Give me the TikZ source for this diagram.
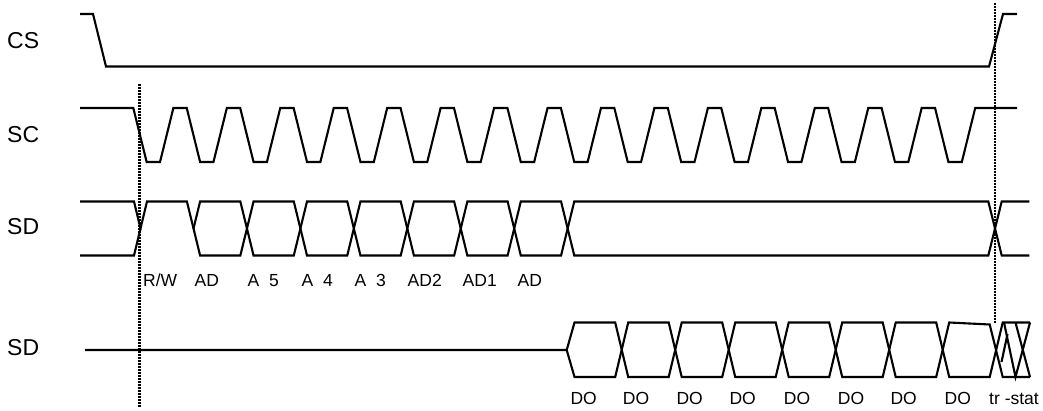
\documentclass[tikz,border=0pt]{standalone}
\usepackage{fontspec}
\setmainfont{Liberation Sans}
\begin{document}
\begin{tikzpicture}[x=1pt,y=-1pt,
  wave/.style={line width=2.1pt, line join=miter},
  guide/.style={line width=2.2pt, dash pattern=on 1.6pt off 1.4pt},
  rowlabel/.style={anchor=base west, inner sep=0pt, font=\fontsize{23}{23}\selectfont},
  bitlabel/.style={anchor=base west, inner sep=0pt, font=\fontsize{17.5}{17.5}\selectfont}]
\useasboundingbox (0,0) rectangle (1043,411);
\fill[white] (0,0) rectangle (1043,411);

% row labels
\node[rowlabel] (lcs) at (7,49) {CS};
\node[rowlabel] (lsc) at (7,142.5) {SC};
\node[rowlabel] (lsd1) at (7,235) {SD};
\node[rowlabel] (lsd2) at (7,355.5) {SD};

% guide lines
\coordinate (g1t) at (139.5,84);
\coordinate (g1b) at (139.5,407);
\coordinate (g2t) at (995,3);
\coordinate (g2b) at (995,323);
\draw[guide] (g1t) -- (g1b);
\draw[guide] (g2t) -- (g2b);

% CS
\draw[wave] (80,14) -- (93,14) -- (106,66.5) -- (989,66.5) -- (1003,14) -- (1017,14);

% SC
\draw[wave] (80,108) -- (133.3,108)
  \foreach \k in {0,...,14} { -- ({146.66+\k*53.45},162) -- ({160.02+\k*53.45},162) -- ({173.38+\k*53.45},108) -- ({186.74+\k*53.45},108) }
  -- (948.4,162) -- (961.8,162) -- (975.2,108) -- (1017,108);

% SD (address)
\draw[wave] (80,201.5) -- (134,201.5) -- (140.5,228.5) -- (147,201.5) -- (186.9,201.5) -- (200.1,255.5)
  \foreach \j in {0,1,2} { -- ({193.5+(2*\j+1)*53.45-6.6},255.5) -- ({193.5+(2*\j+1)*53.45+6.6},201.5) -- ({193.5+(2*\j+2)*53.45-6.6},201.5) -- ({193.5+(2*\j+2)*53.45+6.6},255.5) }
  -- (561.05,255.5) -- (574.25,201.5) -- (988.3,201.5) -- (1001.7,255.5) -- (1029.3,255.5);
\draw[wave] (80,255.5) -- (134,255.5) -- (140.5,228.5);
\draw[wave] (193.5,228.5) -- (200.1,201.5)
  \foreach \j in {0,1,2} { -- ({193.5+(2*\j+1)*53.45-6.6},201.5) -- ({193.5+(2*\j+1)*53.45+6.6},255.5) -- ({193.5+(2*\j+2)*53.45-6.6},255.5) -- ({193.5+(2*\j+2)*53.45+6.6},201.5) }
  -- (561.05,201.5) -- (574.25,255.5) -- (988.3,255.5) -- (1001.7,201.5) -- (1029.3,201.5);

% SD (data out)
\draw[wave] (85,350) -- (566.7,350) -- (574.5,322.5) -- (615.2,322.5) -- (628.2,377)
  \foreach \j in {0,1,2} { -- ({621.7+(2*\j+1)*53.5-6.5},377) -- ({621.7+(2*\j+1)*53.5+6.5},322.5) -- ({621.7+(2*\j+2)*53.5-6.5},322.5) -- ({621.7+(2*\j+2)*53.5+6.5},377) }
  -- (989.7,377) -- (1002.7,322.5) -- (1030,322.5);
\draw[wave] (566.7,350) -- (574.5,377) -- (615.2,377) -- (628.2,322.5)
  \foreach \j in {0,1,2} { -- ({621.7+(2*\j+1)*53.5-6.5},322.5) -- ({621.7+(2*\j+1)*53.5+6.5},377) -- ({621.7+(2*\j+2)*53.5-6.5},377) -- ({621.7+(2*\j+2)*53.5+6.5},322.5) }
  -- (989.7,324.5) -- (1002.7,377) -- (1030,377);
% tri-state hatching
\draw[wave] (1004,322.5) -- (1015.5,377) -- (1030,322.5);
\draw[wave] (1015.5,322.5) -- (1030,377);
\draw[wave] (1001.5,362) -- (1007.5,334);

% bit labels
\node[bitlabel] (lrw) at (143,287) {R/W};
\node[bitlabel] (lad0) at (194.5,287) {AD};
\node[bitlabel] (la5) at (247.5,287) {A~~5};
\node[bitlabel] (la4) at (301.5,287) {A~~4};
\node[bitlabel] (la3) at (354.5,287) {A~~3};
\node[bitlabel] (lad2) at (407.5,287) {AD2};
\node[bitlabel] (lad1) at (462.5,287) {AD1};
\node[bitlabel] (lad) at (517.5,287) {AD};

\node[bitlabel] (ldo1) at (570.4,404) {DO};
\node[bitlabel] (ldo2) at (622.7,404) {DO};
\node[bitlabel] (ldo3) at (676.4,404) {DO};
\node[bitlabel] (ldo4) at (729.4,404) {DO};
\node[bitlabel] (ldo5) at (783.7,404) {DO};
\node[bitlabel] (ldo6) at (837.7,404) {DO};
\node[bitlabel] (ldo7) at (890.4,404) {DO};
\node[bitlabel] (ldo8) at (944.4,404) {DO};
\node[bitlabel] (ltri) at (989,404) {tr -stat};
\end{tikzpicture}
\end{document}
